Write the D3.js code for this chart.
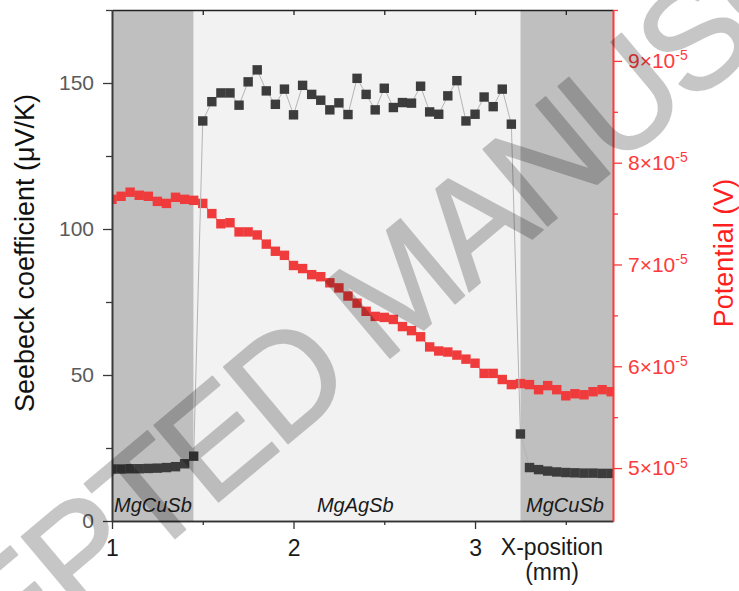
<!DOCTYPE html>
<html>
<head>
<meta charset="utf-8">
<script src="https://cdn.jsdelivr.net/npm/d3@7"></script>
<style>
	body { margin: 0; background: #fff; }
	svg { display: block; font-family: "Liberation Sans", Arial, sans-serif; }
</style>
</head>
<body>
<div id="chart"></div>
<script>

// x-position of each measurement (mm)
const xPos = [
	1.00, 1.05, 1.10, 1.15, 1.20, 1.25, 1.30, 1.35, 1.40, 1.45,
	1.50, 1.55, 1.60, 1.65, 1.70, 1.75, 1.80, 1.85, 1.90, 1.95,
	2.00, 2.05, 2.10, 2.15, 2.20, 2.25, 2.30, 2.35, 2.40, 2.45,
	2.50, 2.55, 2.60, 2.65, 2.70, 2.75, 2.80, 2.85, 2.90, 2.95,
	3.00, 3.05, 3.10, 3.15, 3.20, 3.25, 3.30, 3.35, 3.40, 3.45,
	3.50, 3.55, 3.60, 3.65, 3.70, 3.75
];

// seebeck coefficient (µV/K)
const seebeck = [
	17.8, 17.8, 17.9, 17.9, 18.0, 18.1, 18.3, 18.6, 19.6, 22.2,
	137.0, 143.6, 146.6, 146.6, 142.4, 150.4, 154.5, 147.3, 142.7, 147.9,
	139.1, 149.2, 146.1, 144.1, 140.8, 143.2, 139.2, 151.6, 146.1, 140.8,
	148.2, 141.6, 143.3, 143.1, 148.9, 140.1, 139.3, 145.6, 150.8, 137.0,
	139.3, 145.2, 141.9, 147.9, 135.9, 29.8, 18.3, 17.6, 17.1, 16.8,
	16.6, 16.5, 16.4, 16.4, 16.3, 16.3
];

// potential, in units of 1e-5 V
const potential = [
	7.64, 7.67, 7.71, 7.68, 7.67, 7.62, 7.60, 7.66, 7.64, 7.63,
	7.60, 7.50, 7.40, 7.41, 7.32, 7.32, 7.29, 7.20, 7.13, 7.09,
	6.99, 6.96, 6.90, 6.88, 6.82, 6.77, 6.69, 6.62, 6.54, 6.49,
	6.48, 6.46, 6.39, 6.35, 6.29, 6.19, 6.15, 6.14, 6.11, 6.07,
	6.03, 5.93, 5.93, 5.87, 5.82, 5.83, 5.82, 5.77, 5.81, 5.77,
	5.71, 5.73, 5.72, 5.75, 5.77, 5.75
];

// material zones
const zoneNames = ["MgCuSb", "MgAgSb", "MgCuSb"];
const zoneStart = [1.00, 1.45, 3.25];
const zoneEnd = [1.45, 3.25, 3.76];
const zoneFill = ["#bfbfbf", "#f2f2f2", "#bfbfbf"];

// ticks
const xTicks = [1, 2, 3];
const xMinor = [1.5, 2.5, 3.5];
const xTopTicks = [1.5, 2, 2.5, 3, 3.5];
const leftTicks = [0, 50, 100, 150];
const leftMinor = [25, 75, 125, 175];
const rightTicks = [5, 6, 7, 8, 9];
const rightMinor = [5.5, 6.5, 7.5, 8.5, 9.5];

const width = 739;
const height = 591;

const pLeft = 112, pRight = 613, pTop = 10, pBottom = 521;

let x = d3.scaleLinear().domain([1, 3.76]).range([pLeft, pRight]);
let yL = d3.scaleLinear().domain([0, 175]).range([pBottom, pTop]);
let yR = d3.scaleLinear().domain([4.48, 9.5]).range([pBottom, pTop]);

let svg = d3.select("#chart")
	.append("svg")
	.attr("width", width)
	.attr("height", height);

svg.append("defs")
	.append("clipPath")
	.attr("id", "plot-clip")
	.append("rect")
	.attr("x", pLeft)
	.attr("y", pTop)
	.attr("width", pRight - pLeft)
	.attr("height", pBottom - pTop);

//zones
svg.append("g")
	.selectAll("rect")
	.data(zoneNames)
	.join("rect")
	.attr("x", (d, i) => x(zoneStart[i]))
	.attr("y", pTop)
	.attr("width", (d, i) => x(zoneEnd[i]) - x(zoneStart[i]))
	.attr("height", pBottom - pTop)
	.attr("fill", (d, i) => zoneFill[i]);

let zoneLabels = svg.append("g")
	.attr("font-style", "italic")
	.attr("font-size", "20px")
	.attr("fill", "#1a1a1a");

zoneLabels.append("text")
	.attr("x", x(zoneStart[0]) + 2)
	.attr("y", 512)
	.text(zoneNames[0]);

zoneLabels.append("text")
	.attr("x", x(2.34))
	.attr("y", 512)
	.attr("text-anchor", "middle")
	.text(zoneNames[1]);

zoneLabels.append("text")
	.attr("x", x(3.495))
	.attr("y", 512)
	.attr("text-anchor", "middle")
	.text(zoneNames[2]);

//series
const sq = 9.4;
let plot = svg.append("g").attr("clip-path", "url(#plot-clip)");

plot.append("path")
	.datum(xPos)
	.attr("fill", "none")
	.attr("stroke", "#f06060")
	.attr("stroke-width", 1)
	.attr("d", d3.line().x(d => x(d)).y((d, i) => yR(potential[i])));

plot.append("g")
	.selectAll("rect")
	.data(xPos)
	.join("rect")
	.attr("x", d => x(d) - sq / 2)
	.attr("y", (d, i) => yR(potential[i]) - sq / 2)
	.attr("width", sq)
	.attr("height", sq)
	.attr("fill", "#ef3b3b");

plot.append("path")
	.datum(xPos)
	.attr("fill", "none")
	.attr("stroke", "#b4b4b4")
	.attr("stroke-width", 1)
	.attr("d", d3.line().x(d => x(d)).y((d, i) => yL(seebeck[i])));

plot.append("g")
	.selectAll("rect")
	.data(xPos)
	.join("rect")
	.attr("x", d => x(d) - sq / 2)
	.attr("y", (d, i) => yL(seebeck[i]) - sq / 2)
	.attr("width", sq)
	.attr("height", sq)
	.attr("fill", "#3c3c3c");

//axes
function styleAxis(g, color, size) {
	g.select(".domain").attr("stroke", color).attr("stroke-width", 1.6);
	g.selectAll(".tick line").attr("stroke", color).attr("stroke-width", 1.3);
	g.selectAll(".tick text").attr("fill", color).attr("font-size", size);
	g.attr("font-family", null);
}

let topAxis = svg.append("g")
	.attr("transform", `translate(0,${pTop})`)
	.call(d3.axisTop(x).tickValues(xTopTicks).tickSize(-5).tickSizeOuter(0).tickFormat(""));
styleAxis(topAxis, "#222", "0px");

let bottomMinor = svg.append("g")
	.attr("transform", `translate(0,${pBottom})`)
	.call(d3.axisBottom(x).tickValues(xMinor).tickSize(4).tickSizeOuter(0).tickFormat(""));
styleAxis(bottomMinor, "#333", "0px");

let bottomAxis = svg.append("g")
	.attr("transform", `translate(0,${pBottom})`)
	.call(d3.axisBottom(x).tickValues(xTicks).tickSize(8).tickSizeOuter(0).tickPadding(11).tickFormat(d3.format("d")));
styleAxis(bottomAxis, "#333", "23px");
bottomAxis.selectAll(".tick text").attr("fill", "#1a1a1a");

let leftMinorAxis = svg.append("g")
	.attr("transform", `translate(${pLeft},0)`)
	.call(d3.axisLeft(yL).tickValues(leftMinor).tickSize(6).tickSizeOuter(0).tickFormat(""));
styleAxis(leftMinorAxis, "#3a3a3a", "0px");

let leftAxis = svg.append("g")
	.attr("transform", `translate(${pLeft},0)`)
	.call(d3.axisLeft(yL).tickValues(leftTicks).tickSize(9).tickSizeOuter(0).tickPadding(9));
styleAxis(leftAxis, "#3a3a3a", "21px");
leftAxis.selectAll(".tick text").attr("fill", "#5a5a5a");

let rightMinorAxis = svg.append("g")
	.attr("transform", `translate(${pRight},0)`)
	.call(d3.axisRight(yR).tickValues(rightMinor).tickSize(5).tickSizeOuter(0).tickFormat(""));
styleAxis(rightMinorAxis, "#ff3a3a", "0px");

let rightAxis = svg.append("g")
	.attr("transform", `translate(${pRight},0)`)
	.call(d3.axisRight(yR).tickValues(rightTicks).tickSize(9).tickSizeOuter(0).tickPadding(6).tickFormat(""));
styleAxis(rightAxis, "#ff3a3a", "21px");

// n×10^-5 labels with superscript
rightAxis.selectAll(".tick text")
	.each(function(d) {
		let t = d3.select(this);
		t.append("tspan").text(d + "×10");
		t.append("tspan")
			.attr("dy", "-0.55em")
			.attr("font-size", "14px")
			.text("-5");
	});

//axis titles
svg.append("text")
	.attr("transform", "translate(34,253) rotate(-90)")
	.attr("text-anchor", "middle")
	.attr("font-size", "27px")
	.attr("fill", "#111")
	.text("Seebeck coefficient (μV/K)");

svg.append("text")
	.attr("transform", "translate(733,253) rotate(-90)")
	.attr("text-anchor", "middle")
	.attr("font-size", "27px")
	.attr("fill", "#ff1f1f")
	.text("Potential (V)");

let xTitle = svg.append("text")
	.attr("text-anchor", "middle")
	.attr("font-size", "23px")
	.attr("fill", "#1a1a1a");

xTitle.append("tspan")
	.attr("x", 552)
	.attr("y", 555)
	.text("X-position");

xTitle.append("tspan")
	.attr("x", 552)
	.attr("y", 580)
	.text("(mm)");

//watermark
svg.append("text")
	.attr("transform", "translate(428,326) rotate(-40)")
	.attr("text-anchor", "middle")
	.attr("font-size", "145px")
	.attr("letter-spacing", "-6px")
	.attr("fill", "#000")
	.attr("stroke", "#000")
	.attr("stroke-width", 2)
	.attr("stroke-linejoin", "round")
	.attr("opacity", 0.22)
	.text("ACCEPTED MANUSCRIPT");

</script>
</body>
</html>
